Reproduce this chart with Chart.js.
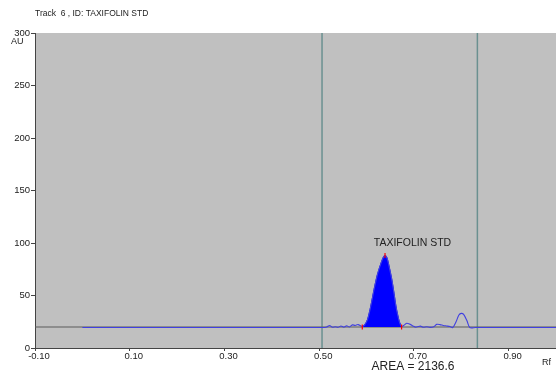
<!DOCTYPE html>
<html>
<head>
<meta charset="utf-8">
<script src="https://cdn.jsdelivr.net/npm/chart.js@4.4.1/dist/chart.umd.min.js"></script>
<style>
  html, body { margin: 0; padding: 0; background: #ffffff; }
  #wrap { width: 556px; height: 372px; position: relative; }
</style>
</head>
<body>
<div id="wrap"><canvas id="c" width="556" height="372"></canvas></div>
<script>
// ---- data ----
const xTicks = [-0.10, 0.10, 0.30, 0.50, 0.70, 0.90];
const yTicks = [0, 50, 100, 150, 200, 250, 300];

// grey instrument baseline
const baseX = [-0.10, 1.05];
const baseY = [20, 20];

// blue densitogram trace (Rf, AU)
const traceX = [0.00, 0.500, 0.515, 0.522, 0.528, 0.534, 0.540, 0.546, 0.552, 0.558, 0.564, 0.570, 0.576, 0.582, 0.591,
  0.596, 0.602, 0.609, 0.616, 0.623, 0.630, 0.635, 0.639, 0.643, 0.647, 0.653, 0.658, 0.662, 0.666, 0.670, 0.674,
  0.680, 0.685, 0.692, 0.698, 0.704, 0.709, 0.714, 0.720, 0.727, 0.734, 0.742, 0.748, 0.755, 0.762, 0.769, 0.776,
  0.782, 0.789, 0.795, 0.800, 0.805, 0.812, 0.818, 0.830, 1.05];
const traceY = [19.5, 19.5, 19.8, 21.5, 19.8, 20.2, 19.7, 21.0, 19.8, 21.2, 20.0, 22.0, 21.5, 22.3, 20.5,
  22, 27, 40, 56, 70, 80, 86, 88, 86, 79, 66, 52, 40, 31, 24, 20.5,
  22, 23.6, 22.5, 21, 19.8, 20.5, 20.8, 19.8, 20.3, 19.6, 20.2, 22.5, 22.3, 21.5, 21.0, 20.5,
  19.5, 25, 31.5, 33, 32, 26, 19.5, 19.5, 19.5];

const peakStart = 0.591;
const peakEnd = 0.674;
const peakBase = 20;

const markerX = [0.591, 0.639, 0.674];
const markerY = [20, 88, 20];

const cursorX = [0.506, 0.834];

const peakName = "TAXIFOLIN STD";
const peakLabelX = 0.697;
const peakLabelY = 100;
const titleText = "Track  6 , ID: TAXIFOLIN STD";
const areaText = "AREA = 2136.6";
const yUnit = "AU";
const xUnit = "Rf";

const tracePts = traceX.map((x, i) => ({ x, y: traceY[i] }));
const peakPts = tracePts.filter(p => p.x >= peakStart && p.x <= peakEnd);
const basePts = baseX.map((x, i) => ({ x, y: baseY[i] }));
const markerPts = markerX.map((x, i) => ({ x, y: markerY[i] }));

const FONT = "'Liberation Sans', Arial, sans-serif";

const datasets = [];
cursorX.forEach(cx => {
  datasets.push({
    data: [{ x: cx, y: 0 }, { x: cx, y: 300 }],
    borderColor: '#6a9090', borderWidth: 1.5, pointRadius: 0, fill: false, order: 5
  });
});
datasets.push({ data: basePts, borderColor: '#5a5a5a', borderWidth: 1, pointRadius: 0, fill: false, order: 4 });
datasets.push({ data: peakPts, borderColor: '#0000ff', backgroundColor: '#0000ff', borderWidth: 1,
  pointRadius: 0, fill: { value: peakBase }, tension: 0.3, order: 3 });
datasets.push({ data: tracePts, borderColor: '#4040e0', borderWidth: 1.1, pointRadius: 0, fill: false, tension: 0.3, order: 2 });
datasets.push({ data: markerPts, showLine: false, pointStyle: 'line', rotation: 90, pointRadius: 2.5,
  borderColor: '#ff0000', borderWidth: 1.2, order: 1 });

const bgPlugin = {
  id: 'bg',
  beforeDraw(chart) {
    const { ctx, chartArea: a } = chart;
    ctx.save();
    ctx.fillStyle = '#c0c0c0';
    ctx.fillRect(a.left, a.top, a.right - a.left, a.bottom - a.top);
    ctx.restore();
  },
  afterDraw(chart) {
    const { ctx, scales } = chart;
    const xs = scales.x, ys = scales.y;
    ctx.save();
    ctx.fillStyle = '#222';
    ctx.textBaseline = 'middle';
    ctx.font = '8.5px ' + FONT;
    ctx.textAlign = 'left';
    ctx.fillText(titleText, 35, 14);
    ctx.font = '9px ' + FONT;
    ctx.fillText(yUnit, 11, 42);
    ctx.fillText(xUnit, 542, 363);
    ctx.font = '10.5px ' + FONT;
    ctx.textAlign = 'center';
    ctx.fillText(peakName, xs.getPixelForValue(peakLabelX), ys.getPixelForValue(peakLabelY));
    ctx.font = '12px ' + FONT;
    ctx.fillText(areaText, 413, 367);
    ctx.restore();
  }
};

new Chart(document.getElementById('c'), {
  type: 'line',
  data: { datasets },
  options: {
    responsive: false,
    animation: false,
    plugins: { legend: { display: false }, tooltip: { enabled: false }, title: { display: false } },
    layout: { autoPadding: false, padding: { top: 33, right: 0, left: 0, bottom: 0 } },
    scales: {
      x: {
        type: 'linear', min: -0.10, max: 1.0,
        afterBuildTicks: s => { s.ticks = xTicks.map(v => ({ value: v })); },
        afterFit: s => { s.height = 24; },
        ticks: { callback: v => v.toFixed(2), font: { size: 9.5, family: FONT }, color: '#222', padding: 0,
          maxRotation: 0, autoSkip: false, labelOffset: 4 },
        grid: { drawOnChartArea: false, tickLength: 3, color: '#444' },
        border: { color: '#444', width: 1 }
      },
      y: {
        type: 'linear', min: 0, max: 300,
        afterBuildTicks: s => { s.ticks = yTicks.map(v => ({ value: v })); },
        afterFit: s => { s.width = 35; },
        ticks: { font: { size: 9.5, family: FONT }, color: '#222', padding: 1 },
        grid: { drawOnChartArea: false, tickLength: 4, color: '#444' },
        border: { color: '#444', width: 1 }
      }
    }
  },
  plugins: [bgPlugin]
});
</script>
</body>
</html>
